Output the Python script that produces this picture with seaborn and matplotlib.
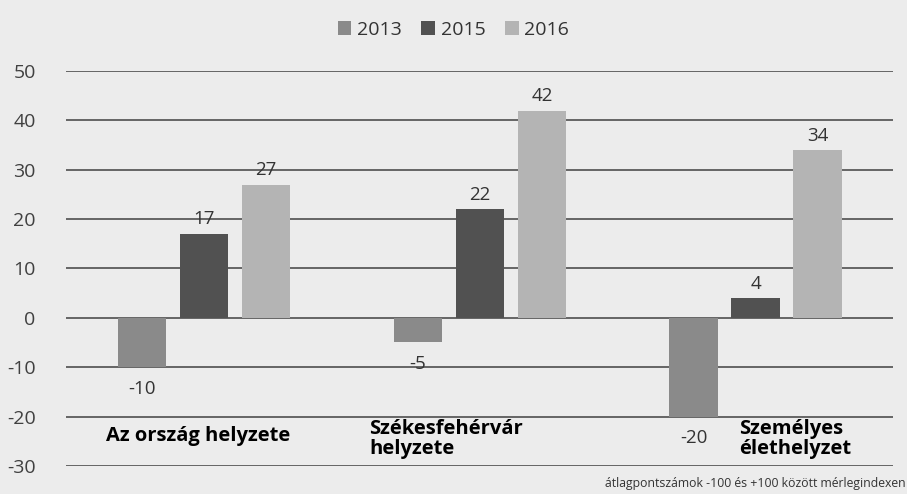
import matplotlib
matplotlib.use("Agg")
import matplotlib.pyplot as plt
import seaborn as sns
import pandas as pd

CATEGORIES = ["Az ország helyzete", "Székesfehérvár\nhelyzete", "Személyes\nélethelyzet"]
YEARS = ["2013", "2015", "2016"]
VALUES = {
    "2013": [-10, -5, -20],
    "2015": [17, 22, 4],
    "2016": [27, 42, 34],
}
COLORS = {"2013": "#8a8a8a", "2015": "#515151", "2016": "#b4b4b4"}
NOTE = "átlagpontszámok -100 és +100 között mérlegindexen"

rows = []
for year in YEARS:
    for cat, val in zip(CATEGORIES, VALUES[year]):
        rows.append({"cat": cat, "year": year, "value": val})
df = pd.DataFrame(rows)

sns.set_theme(style="white")
plt.rcParams["font.family"] = ["Open Sans", "DejaVu Sans"]
plt.rcParams["axes.unicode_minus"] = False

bg = "#ececec"
fig = plt.figure(figsize=(9.07, 4.94), dpi=100, facecolor=bg)
ax = fig.add_axes([0.073, 0.057, 0.912, 0.799])
ax.set_facecolor(bg)

sns.barplot(data=df, x="cat", y="value", hue="year", hue_order=YEARS,
            palette=COLORS, width=0.675, gap=0.22, ax=ax, saturation=1,
            edgecolor="none", linewidth=0, zorder=3)

ax.set_ylim(-30, 50)
ax.set_yticks(range(-30, 51, 10))
ax.yaxis.grid(True, color="#5a5a5a", linewidth=1.3, zorder=0)
ax.set_axisbelow(True)
for s in ax.spines.values():
    s.set_visible(False)
ax.tick_params(axis="y", length=0, labelsize=14, labelcolor="#404040", pad=22)
ax.set_xticks([])
ax.set_xlabel("")
ax.set_ylabel("")

# value labels: negatives sit a bit lower under the bar
for cont in ax.containers:
    for bar in cont:
        h = bar.get_height()
        xc = bar.get_x() + bar.get_width() / 2
        if h >= 0:
            ax.annotate(f"{h:.0f}", (xc, h), xytext=(0, 4), textcoords="offset points",
                        ha="center", va="bottom", fontsize=13.5, color="#333333")
        else:
            ax.annotate(f"{h:.0f}", (xc, h), xytext=(0, -9), textcoords="offset points",
                        ha="center", va="top", fontsize=13.5, color="#333333")

# category labels inside plot
ax.text(-0.355, -24, CATEGORIES[0], ha="left", va="center",
        fontsize=14.5, fontweight="bold", color="black", zorder=5)
ax.text(0.6, -24.6, CATEGORIES[1], ha="left", va="center",
        fontsize=14.5, fontweight="bold", color="black", linespacing=1.0, zorder=5)
ax.text(1.94, -24.6, CATEGORIES[2], ha="left", va="center",
        fontsize=14.5, fontweight="bold", color="black", linespacing=1.0, zorder=5)

handles, labels = ax.get_legend_handles_labels()
ax.legend(handles, labels, loc="center", bbox_to_anchor=(0.5, 0.94),
          bbox_transform=fig.transFigure, ncol=3, frameon=False,
          fontsize=14, handlelength=0.7, handleheight=0.7,
          handletextpad=0.3, columnspacing=1.0, labelcolor="#333333")

fig.text(0.998, 0.022, NOTE, ha="right", va="center", fontsize=8.8, color="#333333")

fig.savefig("out.png", dpi=100, facecolor=bg)
